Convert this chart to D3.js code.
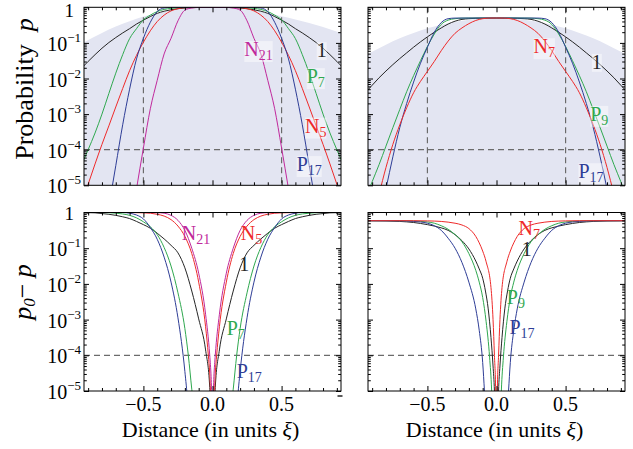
<!DOCTYPE html>
<html><head><meta charset="utf-8">
<script src="https://cdn.jsdelivr.net/npm/d3@7"></script>
<style>
body{margin:0;background:#fff}
svg{display:block}
svg text{font-family:"Liberation Serif","Times New Roman",Times,serif}
</style>
</head><body>
<svg id="c" width="633" height="449" font-family="Liberation Serif, Times New Roman, serif"></svg>
<script>
// ---------- DATA (x in units of xi; values are log10 of the plotted quantity) ----------
// x >= 0 half of symmetric curves (mirrored when drawn)
// Top-left: probability p
const tlEnvX   = [-0.93,-0.8,-0.7,-0.6,-0.5,-0.4,-0.3,-0.2,-0.1,0,0.1,0.2,0.3,0.4,0.5,0.6,0.7,0.8,0.93];
const tlEnv    = [-0.98,-0.72,-0.54,-0.39,-0.26,-0.165,-0.09,-0.04,-0.01,0,-0.01,-0.04,-0.09,-0.16,-0.25,-0.34,-0.44,-0.55,-0.72];
const tlOneX   = [0,0.1,0.2,0.3,0.35,0.4,0.45,0.5,0.55,0.6,0.65,0.7,0.75,0.8,0.85,0.9,0.95];
const tlOne    = [0,-0.005,-0.02,-0.07,-0.11,-0.17,-0.26,-0.36,-0.47,-0.6,-0.72,-0.85,-0.99,-1.15,-1.33,-1.52,-1.72];
const tlP7X    = [0,0.2,0.25,0.3,0.35,0.4,0.45,0.5,0.55,0.6,0.65,0.7,0.75,0.8,0.85,0.9,0.95];
const tlP7     = [0,-0.005,-0.015,-0.03,-0.06,-0.12,-0.22,-0.35,-0.6,-0.88,-1.33,-1.85,-2.42,-3.0,-3.53,-4.0,-4.45];
const tlN5X    = [0,0.2,0.25,0.3,0.35,0.4,0.45,0.5,0.55,0.6,0.65,0.7,0.75,0.8,0.85,0.9,0.95];
const tlN5     = [0,-0.01,-0.04,-0.1,-0.22,-0.4,-0.66,-0.98,-1.35,-1.78,-2.28,-2.8,-3.33,-3.85,-4.4,-4.97,-5.55];
const tlP17X   = [0,0.3,0.35,0.4,0.45,0.5,0.55,0.6,0.65,0.7,0.75,0.8];
const tlP17    = [0,-0.003,-0.02,-0.12,-0.42,-0.87,-1.45,-2.3,-3.3,-4.45,-5.6,-6.8];
const tlN21X   = [0,0.1,0.15,0.2,0.25,0.3,0.35,0.4,0.45,0.5,0.55,0.6];
const tlN21    = [0,-0.002,-0.02,-0.08,-0.38,-0.87,-1.31,-2.05,-2.85,-3.95,-5.1,-6.3];
// Top-right: probability p
const trEnvX   = [0,0.1,0.2,0.3,0.4,0.5,0.6,0.7,0.8,0.9,0.95];
const trEnv    = [-0.301,-0.313,-0.348,-0.406,-0.49,-0.59,-0.72,-0.87,-1.05,-1.25,-1.35];
const trOneX   = [0,0.1,0.2,0.25,0.3,0.35,0.4,0.45,0.5,0.55,0.6,0.65,0.7,0.75,0.8,0.85,0.9,0.95];
const trOne    = [-0.301,-0.305,-0.32,-0.34,-0.39,-0.47,-0.58,-0.7,-0.83,-0.97,-1.12,-1.28,-1.44,-1.61,-1.79,-1.98,-2.19,-2.4];
const trN7X    = [0,0.05,0.1,0.15,0.2,0.25,0.3,0.35,0.4,0.45,0.5,0.55,0.6,0.65,0.7,0.75,0.8,0.85,0.9];
const trN7     = [-0.301,-0.303,-0.32,-0.37,-0.46,-0.58,-0.73,-0.95,-1.22,-1.52,-1.8,-2.08,-2.4,-2.82,-3.3,-3.85,-4.5,-5.25,-6.0];
const trP9X    = [0,0.2,0.25,0.3,0.35,0.4,0.45,0.5,0.55,0.6,0.65,0.7,0.75,0.8,0.85,0.9,0.95];
const trP9     = [-0.301,-0.302,-0.305,-0.32,-0.36,-0.48,-0.75,-1.1,-1.5,-1.92,-2.37,-2.87,-3.38,-3.9,-4.42,-4.9,-5.4];
const trP17X   = [0,0.3,0.35,0.4,0.45,0.5,0.55,0.6,0.65,0.7,0.75,0.8,0.85];
const trP17    = [-0.301,-0.303,-0.32,-0.43,-0.7,-1.12,-1.57,-2.1,-2.7,-3.38,-4.2,-5.1,-6.0];
// Bottom-left: p0 - p
const blN21X   = [0.004,0.01,0.02,0.05,0.1,0.15,0.2,0.25,0.3,0.35,0.4,0.5,0.95];
const blN21    = [-5.2,-4.6,-4.0,-2.85,-1.7,-1.0,-0.5,-0.22,-0.08,-0.02,-0.005,0,0];
const blN5X    = [0.01,0.02,0.03,0.05,0.1,0.15,0.2,0.25,0.3,0.35,0.4,0.45,0.5,0.6,0.95];
const blN5     = [-5.3,-4.5,-4.0,-3.2,-1.95,-1.15,-0.67,-0.38,-0.2,-0.1,-0.05,-0.02,-0.01,0,0];
const blOneX   = [0.015,0.02,0.05,0.1,0.15,0.2,0.25,0.3,0.35,0.4,0.45,0.5,0.55,0.6,0.65,0.7,0.75,0.8,0.85,0.95];
const blOne    = [-5.3,-4.9,-3.85,-2.98,-2.2,-1.55,-1.13,-0.92,-0.74,-0.58,-0.44,-0.34,-0.25,-0.17,-0.12,-0.08,-0.05,-0.03,-0.01,0];
const blP7X    = [0.1,0.14,0.15,0.175,0.2,0.25,0.3,0.35,0.4,0.45,0.5,0.55,0.6,0.65,0.7,0.8,0.95];
const blP7     = [-7.5,-5.3,-4.95,-4.0,-3.25,-2.25,-1.5,-0.98,-0.62,-0.4,-0.26,-0.15,-0.08,-0.04,-0.02,0,0];
const blP17X   = [0.15,0.18,0.2,0.25,0.3,0.35,0.4,0.45,0.5,0.55,0.6,0.65,0.95];
const blP17    = [-7.5,-5.3,-4.45,-2.95,-1.95,-1.25,-0.75,-0.42,-0.18,-0.07,-0.02,0,0];
// Bottom-right: p0 - p
const brN7X    = [0.003,0.006,0.015,0.025,0.04,0.075,0.1,0.125,0.15,0.2,0.25,0.3,0.35,0.4,0.5,0.6,0.95];
const brN7     = [-6,-5,-4.0,-3.0,-2.1,-1.38,-1.08,-0.85,-0.67,-0.45,-0.35,-0.3,-0.27,-0.25,-0.235,-0.23,-0.23];
const brOneX   = [0.008,0.015,0.025,0.04,0.06,0.08,0.1,0.125,0.15,0.2,0.25,0.3,0.35,0.4,0.45,0.5,0.6,0.7,0.8,0.95];
const brOne    = [-6,-5,-4.3,-3.5,-2.7,-2.2,-1.84,-1.58,-1.36,-1.02,-0.79,-0.62,-0.5,-0.43,-0.38,-0.34,-0.28,-0.25,-0.235,-0.23];
const brP9X    = [0.02,0.035,0.05,0.075,0.1,0.125,0.15,0.2,0.25,0.3,0.35,0.4,0.45,0.5,0.6,0.7,0.95];
const brP9     = [-7,-5,-4.05,-3.06,-2.38,-1.95,-1.62,-1.15,-0.82,-0.62,-0.47,-0.37,-0.3,-0.265,-0.24,-0.232,-0.23];
const brP17X   = [0.06,0.087,0.1,0.125,0.15,0.2,0.25,0.3,0.35,0.4,0.45,0.5,0.55,0.6,0.7,0.95];
const brP17    = [-6.5,-5,-4.2,-3.3,-2.7,-1.95,-1.4,-1.0,-0.72,-0.5,-0.37,-0.3,-0.265,-0.25,-0.235,-0.23];
// thresholds and ticks
const threshold = 1e-4;
const edgeLines = [-0.5, 0.5];
const yTickExps = [0,-1,-2,-3,-4,-5];
const xTickLabels = [-0.5, 0, 0.5];
const xMinorTicks = [-0.9,-0.8,-0.7,-0.6,-0.4,-0.3,-0.2,-0.1,0.1,0.2,0.3,0.4,0.6,0.7,0.8,0.9];

// ---------- STYLE / LAYOUT ----------
const FONT = "Liberation Serif, Times New Roman, serif";
const C = {k:"#262626", g:"#2fa84f", r:"#ee2a2a", b:"#2e3d96", m:"#c0299c"};
const shade = "#e3e5f2";
const xDom = [-0.93, 0.93];
const mirror = (xs, vs) => {
  const pts = [];
  for (let i = xs.length - 1; i >= 0; i--) if (xs[i] > 0) pts.push([-xs[i], vs[i]]);
  xs.forEach((x, i) => pts.push([x, vs[i]]));
  return pts;
};
const full = (xs, vs) => xs.map((x, i) => [x, vs[i]]);

const panels = [
  {name:"tl", x0:84, x1:341, y0:7.3, y1:185.3, yLab:true, xLab:false, vdash:true,
   env: full(tlEnvX, tlEnv),
   curves:[[tlOneX,tlOne,C.k],[tlP7X,tlP7,C.g],[tlN5X,tlN5,C.r],[tlP17X,tlP17,C.b],[tlN21X,tlN21,C.m]],
   labels:[["1","",C.k,0.754,-1.40],["P","7",C.g,0.682,-2.13],["N","5",C.r,0.669,-3.52],["P","17",C.b,0.609,-4.6],["N","21",C.m,0.23,-1.37]]},
  {name:"tr", x0:368, x1:625, y0:7.3, y1:185.3, yLab:false, xLab:false, vdash:true,
   env: mirror(trEnvX, trEnv),
   curves:[[trOneX,trOne,C.k],[trP9X,trP9,C.g],[trP17X,trP17,C.b],[trN7X,trN7,C.r]],
   labels:[["N","7",C.r,0.268,-1.29],["1","",C.k,0.69,-1.73],["P","9",C.g,0.678,-3.19],["P","17",C.b,0.593,-4.8]]},
  {name:"bl", x0:84, x1:341, y0:212.5, y1:391, yLab:true, xLab:true, vdash:false,
   curves:[[blOneX,blOne,C.k],[blP7X,blP7,C.g],[blP17X,blP17,C.b],[blN5X,blN5,C.r],[blN21X,blN21,C.m]],
   labels:[["N","21",C.m,-0.223,-0.77],["N","5",C.r,0.204,-0.77],["1","",C.k,0.194,-1.64],["P","7",C.g,0.103,-3.43],["P","17",C.b,0.175,-4.63]]},
  {name:"br", x0:368, x1:625, y0:212.5, y1:391, yLab:false, xLab:true, vdash:false,
   curves:[[brOneX,brOne,C.k],[brP9X,brP9,C.g],[brP17X,brP17,C.b],[brN7X,brN7,C.r]],
   labels:[["N","7",C.r,0.159,-0.63],["1","",C.k,0.182,-1.22],["P","9",C.g,0.075,-2.56],["P","17",C.b,0.094,-3.4]]}
];

const svg = d3.select("#c");
const defs = svg.append("defs");
const txt = (parent) => parent.append("text").attr("font-family", FONT);

panels.forEach(cfg => {
  const x = d3.scaleLinear().domain(xDom).range([cfg.x0, cfg.x1]);
  const y = d3.scaleLog().domain([1e-5, 1]).range([cfg.y1, cfg.y0]);
  const id = "clip-" + cfg.name;
  defs.append("clipPath").attr("id", id).append("rect")
    .attr("x", cfg.x0).attr("y", cfg.y0).attr("width", cfg.x1 - cfg.x0).attr("height", cfg.y1 - cfg.y0);
  const g = svg.append("g").attr("clip-path", `url(#${id})`);

  if (cfg.env) {
    g.append("path").datum(cfg.env)
      .attr("d", d3.area().x(d => x(d[0])).y0(cfg.y1).y1(d => y(Math.pow(10, d[1]))).curve(d3.curveMonotoneX))
      .attr("fill", shade);
  }
  const dash = sel => sel.attr("stroke", "#6b6b6b").attr("stroke-width", 1.2).attr("stroke-dasharray", "6,4");
  g.append("line").attr("x1", cfg.x0).attr("x2", cfg.x1).attr("y1", y(threshold)).attr("y2", y(threshold)).call(dash);
  if (cfg.vdash) edgeLines.forEach(v => {
    g.append("line").attr("x1", x(v)).attr("x2", x(v)).attr("y1", cfg.y0).attr("y2", cfg.y1).call(dash);
  });

  const line = d3.line().x(d => x(d[0])).y(d => y(Math.pow(10, d[1]))).curve(d3.curveMonotoneX);
  cfg.curves.forEach(([xs, vs, col]) => {
    g.append("path").datum(mirror(xs, vs)).attr("d", line)
      .attr("fill", "none").attr("stroke", col).attr("stroke-width", 1);
  });

  // curve labels
  cfg.labels.forEach(([main, sub, col, lx, ly]) => {
    const t = txt(svg).attr("x", x(lx)).attr("y", y(Math.pow(10, ly)))
      .attr("fill", col).attr("font-size", 20);
    t.append("tspan").text(main);
    if (sub) t.append("tspan").attr("font-size", 14).attr("dy", 4).text(sub);
    const bb = t.node().getBBox();
    svg.insert("rect", () => t.node())
      .attr("x", bb.x).attr("y", bb.y + 3).attr("width", bb.width).attr("height", bb.height - 4)
      .attr("fill", "#fff").attr("opacity", cfg.env ? 0.45 : 0);
  });

  // axes (inward ticks)
  const yMaj = yTickExps.map(e => Math.pow(10, e));
  const yMin = [];
  for (let e = -5; e < 0; e++) for (let m = 2; m < 10; m++) yMin.push(m * Math.pow(10, e));
  const clean = s => s.call(a => a.select(".domain").remove()).selectAll("line").attr("stroke", "#000");
  svg.append("g").attr("transform", `translate(${cfg.x0},0)`)
    .call(d3.axisLeft(y).tickValues(yMaj).tickSize(-5).tickFormat("")).call(clean);
  svg.append("g").attr("transform", `translate(${cfg.x0},0)`)
    .call(d3.axisLeft(y).tickValues(yMin).tickSize(-2.8).tickFormat("")).call(clean);
  svg.append("g").attr("transform", `translate(${cfg.x1},0)`)
    .call(d3.axisRight(y).tickValues(yMaj).tickSize(-5).tickFormat("")).call(clean);
  svg.append("g").attr("transform", `translate(${cfg.x1},0)`)
    .call(d3.axisRight(y).tickValues(yMin).tickSize(-2.8).tickFormat("")).call(clean);
  svg.append("g").attr("transform", `translate(0,${cfg.y1})`)
    .call(d3.axisBottom(x).tickValues(xTickLabels).tickSize(-5).tickFormat("")).call(clean);
  svg.append("g").attr("transform", `translate(0,${cfg.y1})`)
    .call(d3.axisBottom(x).tickValues(xMinorTicks).tickSize(-3).tickFormat("")).call(clean);
  svg.append("g").attr("transform", `translate(0,${cfg.y0})`)
    .call(d3.axisTop(x).tickValues(xTickLabels).tickSize(-5).tickFormat("")).call(clean);
  svg.append("g").attr("transform", `translate(0,${cfg.y0})`)
    .call(d3.axisTop(x).tickValues(xMinorTicks).tickSize(-3).tickFormat("")).call(clean);

  svg.append("rect").attr("x", cfg.x0).attr("y", cfg.y0)
    .attr("width", cfg.x1 - cfg.x0).attr("height", cfg.y1 - cfg.y0)
    .attr("fill", "none").attr("stroke", "#000").attr("stroke-width", 1);

  if (cfg.yLab) {
    yTickExps.forEach(e => {
      const yy = y(Math.pow(10, e));
      if (e === 0) {
        txt(svg).attr("x", cfg.x0 - 10).attr("y", Math.max(yy + 7, 17)).attr("text-anchor", "end")
          .attr("font-size", 19).text("1");
      } else {
        const t = txt(svg).attr("x", cfg.x0 - 3).attr("y", yy + 8).attr("text-anchor", "end").attr("font-size", 20);
        t.append("tspan").text("10");
        t.append("tspan").attr("font-size", 13).attr("dy", -9).text("\u2212" + (-e));
      }
    });
  }
  if (cfg.xLab) {
    const fmt = d3.format(".1f");
    xTickLabels.forEach(v => {
      txt(svg).attr("x", x(v)).attr("y", cfg.y1 + 20).attr("text-anchor", "middle")
        .attr("font-size", 20).text(fmt(v));
    });
    const t = txt(svg).attr("x", (cfg.x0 + cfg.x1) / 2 - 2).attr("y", 437)
      .attr("text-anchor", "middle").attr("font-size", 22);
    t.append("tspan").text("Distance (in units ");
    t.append("tspan").attr("font-style", "italic").text("\u03BE");
    t.append("tspan").text(")");
  }
});

// y-axis titles
const yt1 = txt(svg).attr("transform", "translate(33,89) rotate(-90)")
  .attr("text-anchor", "middle").attr("font-size", 26);
yt1.append("tspan").text("Probability\u00A0\u00A0");
yt1.append("tspan").attr("font-style", "italic").text("p");
const yt2 = txt(svg).attr("transform", "translate(31,292) rotate(-90)")
  .attr("text-anchor", "middle").attr("font-size", 26);
yt2.append("tspan").attr("font-style", "italic").text("p");
yt2.append("tspan").attr("font-style", "italic").attr("font-size", 17).attr("dy", 4).text("0");
yt2.append("tspan").attr("dy", -4).text("\u2212\u00A0");
yt2.append("tspan").attr("font-style", "italic").text("p");

// stray tick mark below the lower-left panel
svg.append("line").attr("x1", 337.5).attr("x2", 342.5).attr("y1", 396).attr("y2", 396)
  .attr("stroke", "#000").attr("stroke-width", 1.3);
</script>
</body></html>
